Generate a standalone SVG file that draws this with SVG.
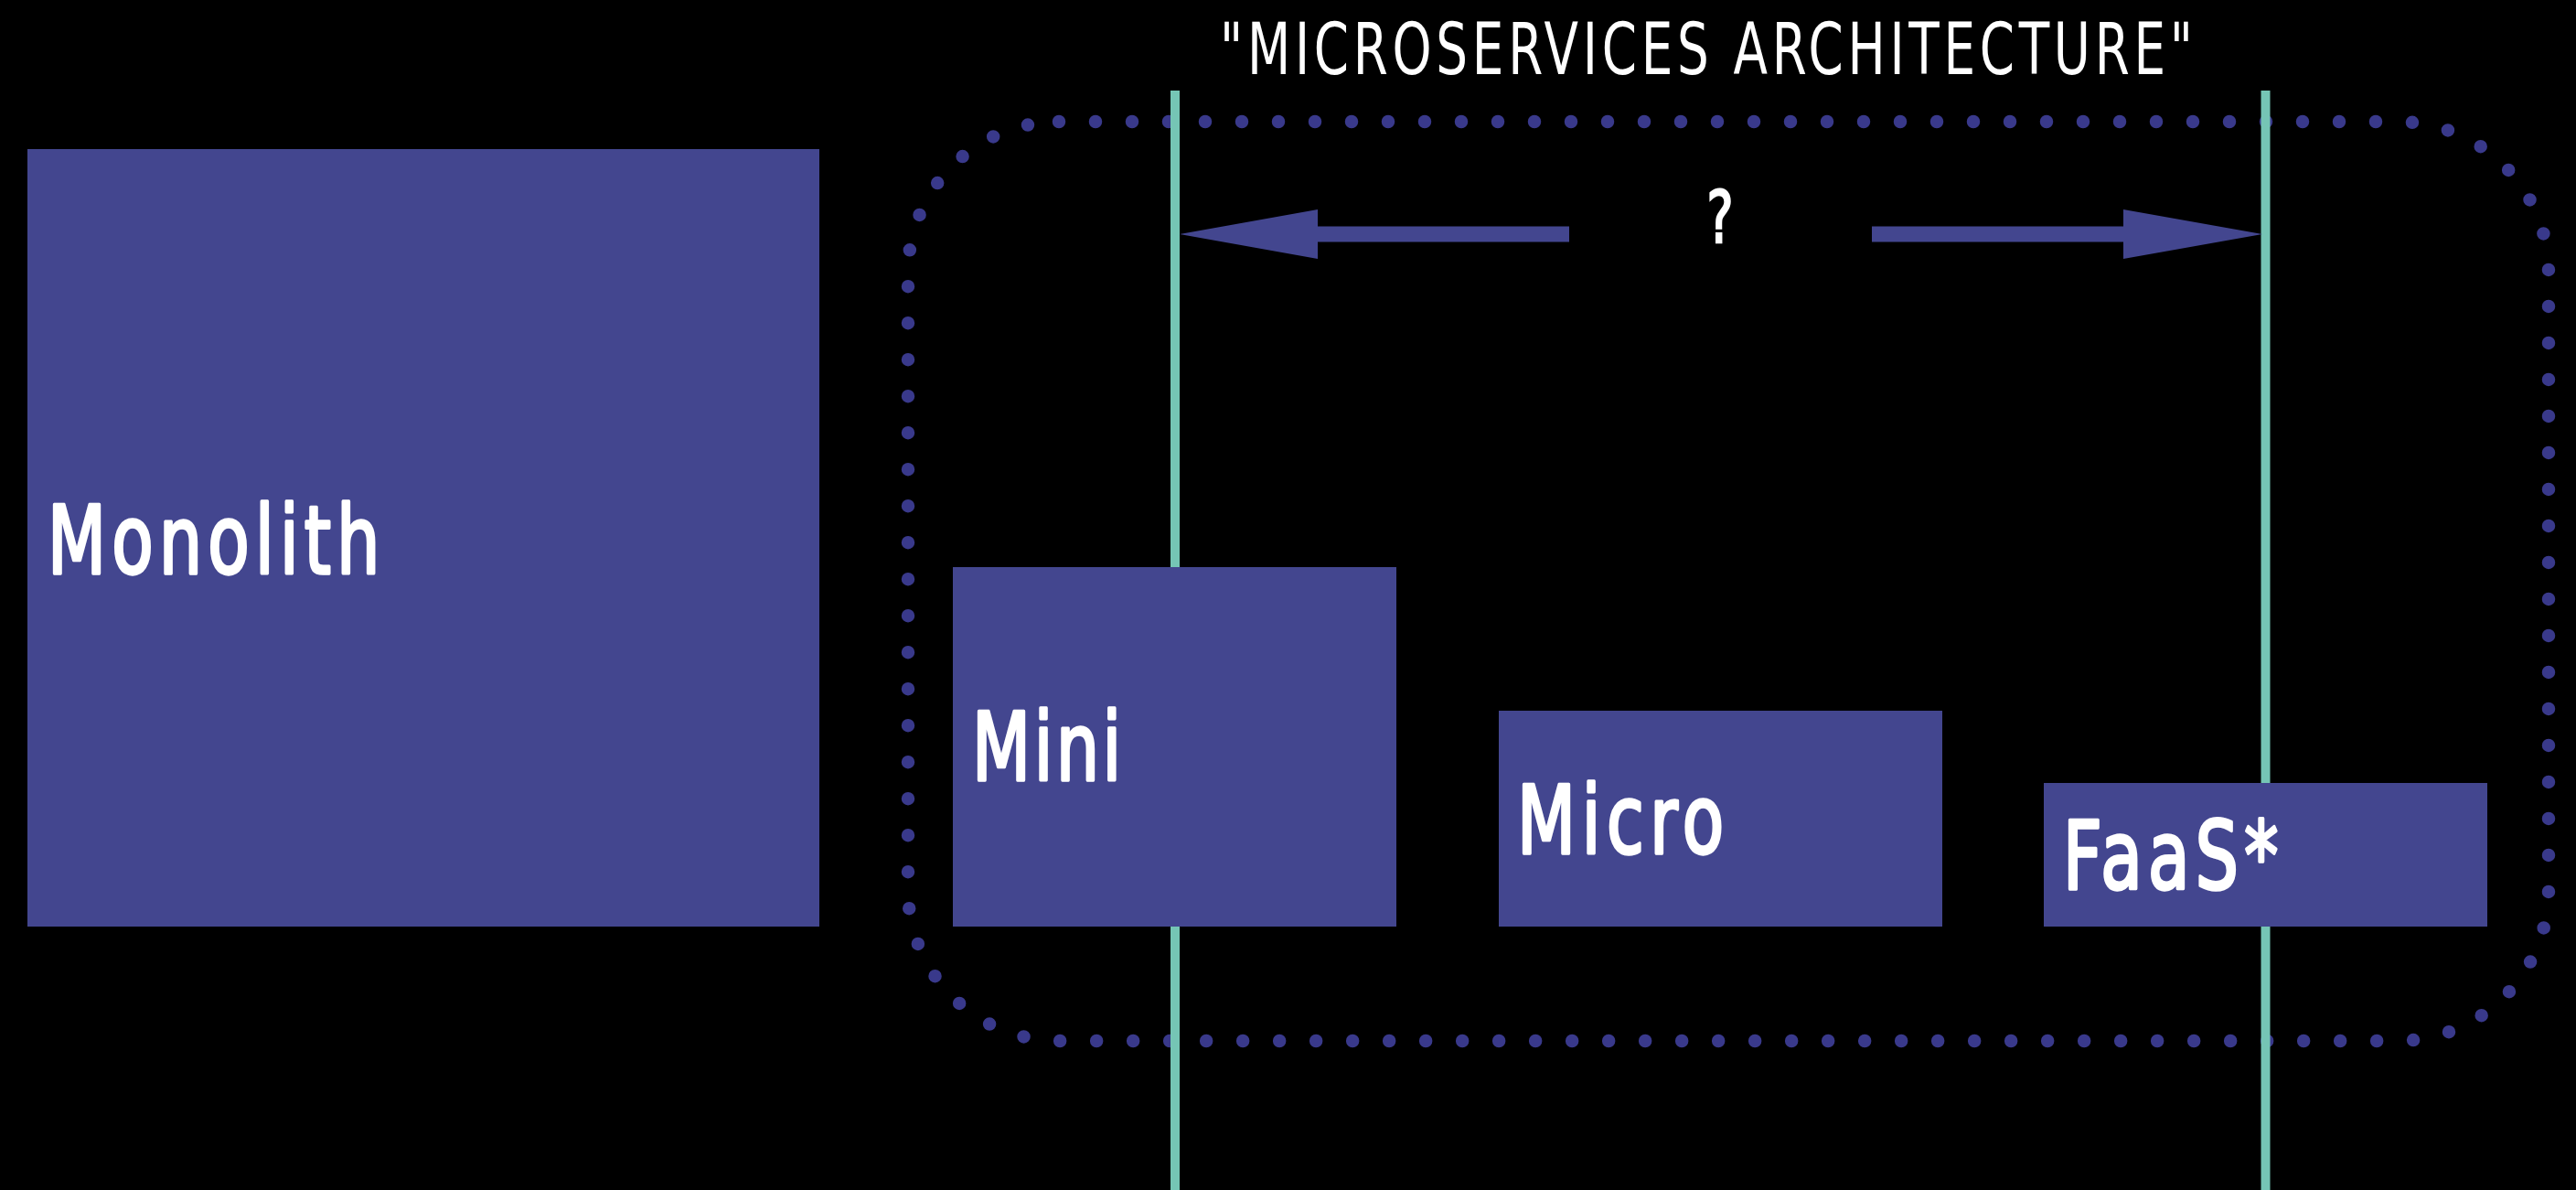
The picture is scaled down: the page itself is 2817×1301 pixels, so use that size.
<svg xmlns="http://www.w3.org/2000/svg" width="2817" height="1301" viewBox="0 0 2817 1301">
  <style>
    .bg { fill: #000000; }
    .box { fill: #43468f; }
    .label { font-family: "DejaVu Sans Condensed", "DejaVu Sans", "Liberation Sans", sans-serif; font-stretch: condensed; font-size: 103px; fill: #ffffff; stroke: #ffffff; stroke-width: 3.5px; stroke-linejoin: round; }
    .title { font-family: "DejaVu Sans Condensed", "DejaVu Sans", "Liberation Sans", sans-serif; font-stretch: condensed; font-size: 78px; fill: #ffffff; }
    .mark { stroke: #ffffff; stroke-width: 2.5px; }
    .guide { stroke: #75c5b5; stroke-width: 10; }
    .boundary { fill: none; stroke: #39398b; stroke-width: 14.5; stroke-linecap: round; stroke-dasharray: 0 40; }
    .arrow { fill: #43468f; }
  </style>

  <rect class="bg" x="0" y="0" width="2817" height="1301"/>

  <!-- dotted outline grouping the service styles -->
  <g id="microservices-boundary">
    <rect class="boundary" x="993" y="133" width="1794" height="1005" rx="165" ry="165"/>
    <!-- narrow, letter-spaced heading: glyphs squeezed by the scale, gaps set by textLength -->
    <text class="title" transform="scale(0.78,1)" x="1710.3" y="81" textLength="1364" lengthAdjust="spacing">"MICROSERVICES ARCHITECTURE"</text>
  </g>

  <!-- vertical range markers -->
  <g id="guides">
    <line class="guide" x1="1285" y1="99" x2="1285" y2="1301"/>
    <line class="guide" x1="2477.5" y1="99" x2="2477.5" y2="1301"/>
  </g>

  <!-- double-headed range arrow -->
  <g id="connectors">
    <polygon class="arrow" points="1290,256 1441,229 1441,247.5 1716,247.5 1716,264.5 1441,264.5 1441,283"/>
    <polygon class="arrow" points="2047,247.5 2322,247.5 2322,229 2474,256 2322,283 2322,264.5 2047,264.5"/>
    <text class="title mark" transform="scale(0.78,1)" x="2411.5" y="265" text-anchor="middle">?</text>
  </g>

  <!-- labels use a horizontal squeeze of 0.8; x and textLength are in the squeezed space -->
  <g id="monolith">
    <rect class="box" x="30" y="163" width="866" height="850"/>
    <text class="label" transform="scale(0.8,1)" x="65" y="627" textLength="454" lengthAdjust="spacing">Monolith</text>
  </g>

  <g id="mini">
    <rect class="box" x="1042" y="620" width="485" height="393"/>
    <text class="label" transform="scale(0.8,1)" x="1328.75" y="853" textLength="204" lengthAdjust="spacing">Mini</text>
  </g>

  <g id="micro">
    <rect class="box" x="1639" y="777" width="485" height="236"/>
    <text class="label" transform="scale(0.8,1)" x="2073.75" y="933" textLength="282.5" lengthAdjust="spacing">Micro</text>
  </g>

  <g id="faas">
    <rect class="box" x="2235" y="856" width="485" height="157"/>
    <text class="label" transform="scale(0.8,1)" x="2820" y="972" textLength="294" lengthAdjust="spacing">FaaS*</text>
  </g>
</svg>
